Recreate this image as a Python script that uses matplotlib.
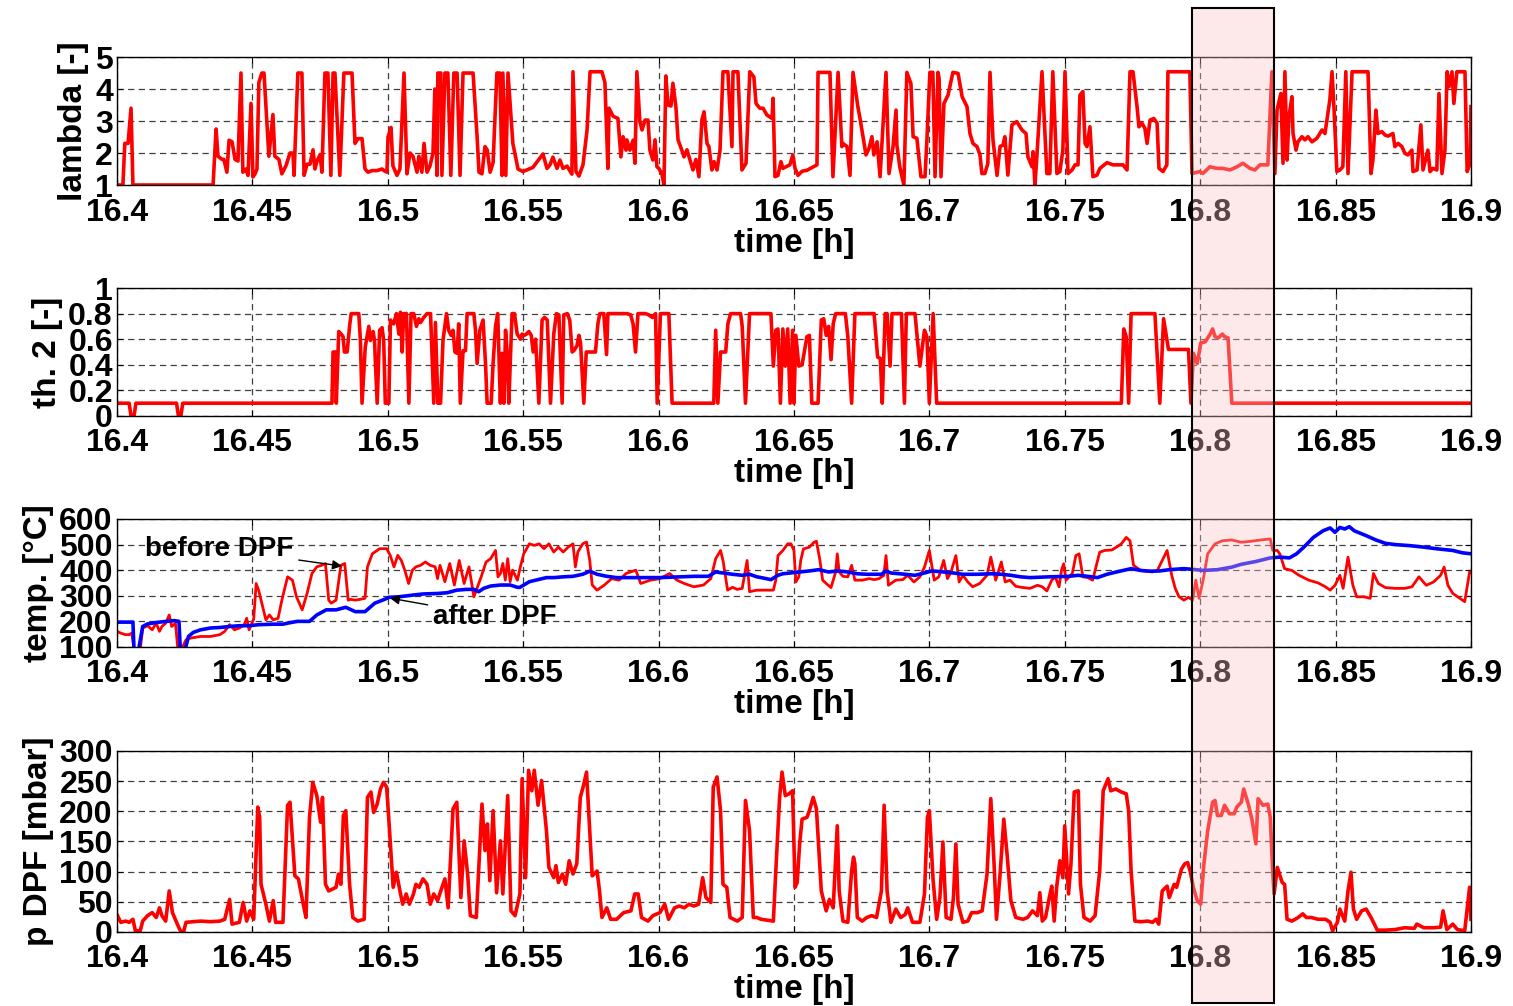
import matplotlib
matplotlib.use("Agg")
import matplotlib.pyplot as plt
from matplotlib.patches import Rectangle
from matplotlib.transforms import blended_transform_factory

plt.rcParams['font.family'] = ['Liberation Sans', 'DejaVu Sans']
plt.rcParams['font.weight'] = 'bold'

# ---------------- data ----------------
xticks = [16.4, 16.45, 16.5, 16.55, 16.6, 16.65, 16.7, 16.75, 16.8, 16.85, 16.9]
xticklabels = ['16.4', '16.45', '16.5', '16.55', '16.6', '16.65', '16.7', '16.75', '16.8', '16.85', '16.9']

lam_t = [16.4000,16.4022,16.4029,16.4041,16.4052,16.4059,16.4355,16.4366,16.4373,16.4388,16.4395,16.4406,16.4414,16.4425,16.4436,16.4447,16.4458,16.4465,16.4476,16.4484,16.4495,16.4502,16.4510,16.4517,16.4524,16.4535,16.4543,16.4554,16.4561,16.4576,16.4583,16.4598,16.4609,16.4624,16.4639,16.4650,16.4654,16.4668,16.4683,16.4691,16.4702,16.4713,16.4724,16.4731,16.4739,16.4750,16.4757,16.4768,16.4779,16.4790,16.4798,16.4805,16.4823,16.4838,16.4868,16.4879,16.4890,16.4905,16.4916,16.4927,16.4942,16.4960,16.4979,16.4986,16.4997,16.5001,16.5012,16.5019,16.5034,16.5045,16.5060,16.5071,16.5082,16.5093,16.5108,16.5115,16.5126,16.5134,16.5145,16.5156,16.5167,16.5174,16.5182,16.5185,16.5196,16.5200,16.5211,16.5222,16.5233,16.5244,16.5256,16.5267,16.5278,16.5315,16.5330,16.5337,16.5348,16.5359,16.5367,16.5378,16.5389,16.5403,16.5414,16.5422,16.5425,16.5436,16.5444,16.5462,16.5481,
16.5499,16.5536,16.5573,16.5588,16.5599,16.5610,16.5625,16.5636,16.5647,16.5662,16.5680,16.5684,16.5695,16.5706,16.5721,16.5736,16.5747,16.5791,16.5802,16.5813,16.5817,16.5832,16.5850,16.5861,16.5869,16.5880,16.5883,16.5894,16.5906,16.5913,16.5920,16.5931,16.5939,16.5950,16.5961,16.5968,16.5979,16.5987,16.5994,16.6001,16.6012,16.6020,16.6027,16.6035,16.6046,16.6053,16.6064,16.6072,16.6086,16.6094,16.6105,16.6116,16.6127,16.6138,16.6149,16.6160,16.6168,16.6179,16.6186,16.6197,16.6205,16.6216,16.6227,16.6238,16.6256,16.6271,16.6275,16.6293,16.6308,16.6323,16.6337,16.6352,16.6360,16.6374,
16.6386,16.6400,16.6419,16.6423,16.6430,16.6441,16.6452,16.6459,16.6485,16.6496,16.6504,16.6515,16.6530,16.6548,16.6570,16.6585,16.6589,16.6633,16.6644,16.6663,16.6677,16.6681,16.6696,16.6707,16.6718,16.6736,16.6744,16.6755,16.6766,16.6777,16.6788,16.6795,16.6807,16.6818,16.6840,16.6851,16.6866,16.6877,16.6880,16.6891,16.6906,16.6917,16.6932,16.6940,16.6954,16.6969,16.6984,16.6991,16.7002,16.7013,16.7021,16.7032,16.7036,16.7043,16.7054,16.7069,16.7087,16.7106,16.7121,16.7139,16.7150,16.7161,16.7176,16.7187,16.7194,16.7205,16.7216,16.7224,16.7235,16.7250,16.7261,
16.7272,16.7279,16.7290,16.7305,16.7323,16.7342,16.7357,16.7364,16.7379,16.7383,16.7390,16.7397,16.7416,16.7434,16.7445,16.7456,16.7471,16.7482,16.7493,16.7501,16.7512,16.7527,16.7538,16.7549,16.7556,16.7567,16.7575,16.7582,16.7593,16.7604,16.7619,16.7630,16.7656,16.7678,16.7715,16.7730,16.7741,16.7752,16.7767,16.7774,16.7785,16.7796,16.7804,16.7815,16.7829,16.7841,16.7848,16.7863,16.7877,16.7881,16.7962,16.7970,16.7999,16.8010,16.8036,16.8062,16.8084,16.8110,16.8136,16.8158,16.8184,16.8202,16.8221,16.8250,16.8265,16.8276,16.8284,16.8298,16.8306,16.8313,16.8321,16.8328,16.8339,16.8343,16.8354,16.8361,16.8376,16.8387,16.8398,16.8413,16.8431,16.8442,16.8450,16.8461,16.8479,16.8487,16.8494,16.8505,16.8516,16.8527,16.8538,16.8546,16.8561,16.8620,16.8631,16.8638,16.8649,16.8657,16.8671,16.8683,16.8694,16.8712,16.8719,16.8731,16.8745,16.8756,16.8767,16.8782,16.8786,16.8801,16.8815,16.8823,16.8841,16.8849,16.8860,16.8874,16.8882,16.8893,16.8904,16.8912,16.8919,16.8930,16.8937,16.8948,16.8978,16.8986,16.8997,16.9000]
lam_v = [1.0,1.0,2.3,2.3,3.4,1.0,1.0,2.75,1.9,1.8,1.8,1.4,2.4,2.35,1.8,1.75,4.5,1.4,1.5,1.3,3.55,1.25,1.35,1.5,4.2,4.5,4.5,2.9,1.9,3.2,1.9,1.8,1.35,1.6,2.0,2.0,1.3,4.5,4.5,1.3,1.65,1.65,2.1,1.5,1.75,1.95,1.4,4.5,4.5,1.3,4.5,4.5,1.3,4.5,4.5,2.3,2.45,2.45,1.5,1.4,1.45,1.45,1.5,1.45,1.4,2.5,2.8,1.6,1.3,1.5,4.5,1.35,2.0,1.9,1.4,1.9,1.4,2.3,1.4,1.6,2.0,4.0,1.3,4.5,4.5,1.3,4.5,4.5,1.3,4.5,4.5,1.3,4.5,4.5,2.5,1.4,1.35,2.2,2.1,1.4,1.7,4.5,4.5,1.3,4.5,1.3,4.5,2.3,1.5,
1.42,1.55,1.97,1.52,1.63,1.87,1.52,1.78,1.52,1.59,1.34,4.54,1.42,1.28,1.63,2.72,4.54,4.54,4.2,1.52,3.4,3.15,3.08,1.88,2.51,2.09,2.41,2.09,2.4,1.68,4.54,2.98,2.72,3.03,3.03,2.09,1.78,2.41,1.57,1.52,1.36,1.0,4.41,3.5,3.47,4.18,3.45,2.41,2.09,1.88,2.1,1.78,1.47,1.8,1.26,3.03,3.29,2.3,2.2,1.47,1.73,1.47,2.09,4.54,4.54,2.2,4.54,4.54,1.47,1.68,4.54,4.38,3.55,3.4,
3.4,3.19,3.08,3.71,1.26,1.3,1.73,1.52,1.63,1.94,1.52,1.3,1.43,1.46,1.56,1.63,4.52,4.52,1.26,4.52,2.2,2.3,2.2,1.3,4.52,3.45,3.08,2.51,1.94,2.14,2.51,1.94,2.35,1.26,4.52,1.36,2.2,3.34,2.25,1.56,1.0,4.52,4.17,2.51,2.46,1.26,1.26,2.41,4.52,4.52,1.26,4.52,4.33,1.26,3.55,3.81,4.52,4.49,3.76,3.45,2.61,2.3,2.2,1.94,1.36,1.36,1.67,4.52,2.41,1.3,2.2,
2.25,2.51,1.31,2.88,2.98,2.72,2.61,1.88,1.57,2.04,1.0,1.88,4.54,1.36,1.36,4.54,1.36,1.42,2.09,4.54,1.36,1.47,1.63,1.63,3.81,3.92,2.3,2.2,2.82,1.26,1.31,1.52,1.7,1.63,1.63,1.47,4.54,4.54,3.45,2.82,2.93,2.77,2.3,3.03,3.08,2.93,1.52,1.42,1.63,4.54,4.54,1.36,1.42,1.36,1.57,1.52,1.52,1.47,1.57,1.68,1.52,1.47,1.63,1.63,4.54,1.36,3.34,3.86,1.68,4.54,1.78,3.14,3.76,2.61,2.09,2.35,2.51,2.41,2.51,2.35,2.46,2.61,2.72,2.61,3.66,4.54,3.45,1.42,1.47,1.57,4.54,1.36,4.54,4.54,1.36,1.78,3.34,2.61,2.67,2.56,2.53,2.61,2.2,2.3,2.2,1.99,1.94,2.09,1.42,1.47,2.88,1.47,2.09,1.42,1.52,1.47,3.86,1.36,2.09,4.54,4.07,4.54,3.55,4.54,4.54,1.42,1.68,3.45]

th_t = [16.4000,16.4045,16.4052,16.4063,16.4070,16.4220,16.4227,16.4236,16.4243,16.4794,16.4798,16.4807,16.4810,16.4819,16.4828,16.4835,16.4840,16.4850,16.4860,16.4865,16.4893,16.4899,16.4905,16.4917,16.4930,16.4936,16.4946,16.4951,16.4961,16.4970,16.4979,16.4985,16.4991,16.5004,16.5010,16.5022,16.5032,16.5041,16.5047,16.5053,16.5059,16.5069,16.5078,16.5086,16.5096,16.5106,16.5115,16.5121,16.5133,16.5145,16.5158,16.5170,16.5176,16.5185,16.5195,16.5204,16.5217,16.5225,16.5234,16.5241,16.5248,16.5256,16.5262,16.5268,16.5278,16.5287,16.5293,16.5318,16.5324,16.5330,16.5340,16.5352,16.5361,16.5367,16.5382,16.5389,16.5398,16.5406,16.5416,16.5422,16.5429,16.5435,16.5441,16.5447,16.5459,16.5468,16.5478,16.5490,16.5496,16.5505,16.5512,16.5521,16.5530,16.5537,16.5546,16.5558,16.5570,16.5579,16.5589,16.5601,16.5613,16.5623,16.5632,16.5644,16.5650,16.5663,16.5672,16.5681,16.5687,16.5699,16.5706,16.5712,16.5724,16.5733,16.5749,16.5767,16.5776,16.5783,16.5798,16.5808,16.5813,16.5884,16.5897,16.5906,16.5915,16.5924,16.5952,16.5964,16.5977,16.5989,16.5995,16.6007,16.6038,16.6050,16.6204,16.6211,16.6219,16.6229,16.6248,16.6256,16.6266,16.6303,
16.6309,16.6321,16.6336,16.6415,16.6424,16.6433,16.6441,16.6450,16.6459,16.6468,16.6477,16.6486,16.6495,16.6500,16.6507,16.6518,16.6530,16.6548,16.6557,16.6566,16.6589,16.6601,16.6610,16.6619,16.6628,16.6637,16.6645,16.6654,16.6690,16.6699,16.6713,16.6725,16.6796,16.6809,16.6819,16.6826,16.6837,16.6844,16.6855,16.6862,16.6897,16.6908,16.6915,16.6947,16.6965,16.6982,16.6991,16.7000,16.7014,16.7027,16.7709,16.7718,16.7727,16.7736,16.7745,16.7833,16.7851,16.7865,16.7883,16.7957,16.7966,16.7975,16.7989,16.7996,16.8002,16.8019,16.8037,16.8046,16.8055,16.8067,16.8082,16.8090,16.8103,16.8117,16.9000]
th_v = [0.1,0.1,0.0,0.0,0.1,0.1,0.0,0.0,0.1,0.1,0.5,0.5,0.1,0.66,0.64,0.62,0.5,0.5,0.72,0.8,0.8,0.59,0.1,0.54,0.7,0.59,0.66,0.59,0.1,0.67,0.69,0.59,0.1,0.1,0.75,0.72,0.8,0.64,0.81,0.5,0.8,0.8,0.1,0.8,0.8,0.7,0.76,0.73,0.77,0.8,0.8,0.1,0.73,0.1,0.1,0.59,0.8,0.67,0.63,0.67,0.5,0.49,0.72,0.1,0.51,0.51,0.8,0.8,0.67,0.41,0.67,0.75,0.41,0.1,0.1,0.41,0.7,0.8,0.1,0.49,0.1,0.67,0.49,0.1,0.8,0.8,0.64,0.6,0.64,0.63,0.64,0.66,0.63,0.5,0.6,0.1,0.75,0.77,0.75,0.1,0.64,0.8,0.79,0.1,0.79,0.8,0.75,0.5,0.51,0.55,0.63,0.57,0.1,0.5,0.5,0.5,0.72,0.8,0.8,0.48,0.8,0.8,0.79,0.72,0.5,0.8,0.8,0.79,0.77,0.8,0.1,0.8,0.8,0.1,0.1,0.67,0.1,0.5,0.5,0.72,0.8,0.8,
0.7,0.1,0.8,0.8,0.39,0.67,0.68,0.1,0.68,0.39,0.68,0.1,0.67,0.1,0.63,0.39,0.4,0.62,0.63,0.1,0.1,0.75,0.76,0.63,0.7,0.44,0.72,0.8,0.8,0.62,0.1,0.8,0.8,0.46,0.45,0.1,0.8,0.8,0.39,0.8,0.8,0.1,0.8,0.8,0.39,0.67,0.62,0.1,0.8,0.1,0.1,0.68,0.62,0.1,0.8,0.8,0.1,0.76,0.52,0.52,0.1,0.49,0.41,0.49,0.57,0.58,0.64,0.68,0.62,0.61,0.64,0.62,0.61,0.1,0.1]

tb_t = [16.4000,16.4014,16.4032,16.4045,16.4055,16.4063,16.4086,16.4095,16.4113,16.4130,16.4145,16.4157,16.4166,16.4180,16.4193,16.4202,16.4216,16.4225,16.4238,16.4255,16.4273,16.4309,16.4345,16.4380,16.4398,16.4416,16.4434,16.4452,16.4470,16.4479,16.4488,16.4496,16.4505,16.4514,16.4523,16.4532,16.4550,16.4563,16.4577,16.4595,16.4609,16.4630,16.4648,16.4663,16.4684,16.4702,16.4720,16.4738,16.4755,16.4770,16.4782,16.4791,16.4809,16.4827,16.4841,16.4854,16.4863,16.4880,16.4898,16.4916,16.4925,16.4943,16.4970,16.4996,16.5009,16.5023,16.5037,16.5050,16.5063,16.5077,16.5091,16.5104,16.5121,16.5139,16.5157,16.5175,16.5184,16.5193,16.5211,16.5229,16.5246,16.5264,16.5282,16.5300,16.5318,16.5336,16.5345,16.5363,16.5380,16.5398,16.5407,16.5416,16.5425,16.5434,16.5443,16.5452,16.5461,16.5479,16.5488,16.5502,16.5523,16.5541,16.5559,16.5577,16.5595,16.5613,16.5630,16.5648,16.5666,16.5684,16.5693,16.5702,16.5720,16.5734,16.5746,16.5755,16.5773,16.5800,16.5827,16.5854,16.5880,16.5916,16.5934,16.5970,16.6005,16.6041,16.6068,16.6095,16.6130,16.6166,16.6193,16.6211,16.6229,16.6238,16.6255,16.6273,16.6291,16.6309,16.6327,16.6336,16.6363,
16.6379,16.6424,16.6433,16.6441,16.6459,16.6477,16.6489,16.6500,16.6507,16.6518,16.6525,16.6535,16.6557,16.6574,16.6583,16.6596,16.6606,16.6619,16.6637,16.6654,16.6660,16.6667,16.6681,16.6699,16.6713,16.6725,16.6752,16.6778,16.6796,16.6814,16.6832,16.6840,16.6849,16.6876,16.6902,16.6920,16.6943,16.6965,16.6982,16.7000,16.7018,16.7035,16.7053,16.7067,16.7080,16.7098,16.7110,16.7124,16.7142,16.7160,16.7186,16.7213,16.7227,16.7245,16.7266,16.7280,16.7298,16.7319,16.7346,16.7372,16.7399,16.7417,16.7434,16.7452,16.7465,16.7479,16.7488,16.7496,16.7505,16.7528,16.7541,16.7553,16.7567,16.7585,16.7603,16.7629,16.7647,16.7674,16.7691,16.7709,16.7727,16.7741,16.7754,16.7780,16.7798,16.7824,16.7842,16.7860,16.7878,16.7895,16.7908,16.7922,16.7940,16.7957,16.7972,16.7984,16.7996,16.8011,16.8028,16.8055,16.8082,16.8117,16.8152,16.8188,16.8223,16.8259,16.8268,16.8285,16.8294,16.8312,16.8339,16.8365,16.8401,16.8436,16.8463,16.8480,16.8498,16.8516,16.8528,16.8546,16.8564,16.8578,16.8605,16.8628,16.8640,16.8658,16.8684,16.8720,16.8755,16.8782,16.8808,16.8835,16.8862,16.8888,16.8901,16.8915,16.8933,16.8959,16.8977,16.8995,16.9000]
tb_v = [161,154,148,148,154,90,90,174,183,167,193,161,180,193,225,180,193,90,90,128,135,141,141,148,161,187,167,174,187,212,167,187,209,348,322,283,206,225,206,212,283,374,361,296,245,309,387,413,419,426,283,271,283,419,426,283,286,283,286,290,413,464,484,484,458,413,458,438,400,348,400,413,419,432,419,413,367,419,355,426,342,438,348,413,296,348,374,432,445,477,374,387,426,361,445,355,400,361,406,464,503,497,503,484,503,471,490,471,490,503,413,471,503,510,438,342,322,342,367,361,387,400,348,361,367,387,361,348,335,342,367,445,477,438,322,333,325,329,438,316,322,
322,322,361,457,477,503,503,477,354,374,438,483,490,509,513,438,361,348,332,393,464,393,376,374,419,361,361,367,363,367,380,457,341,361,363,380,354,374,412,477,361,374,438,367,393,457,354,380,354,335,348,380,451,361,432,354,361,337,332,329,341,335,319,361,374,335,400,425,361,387,457,464,374,371,361,470,477,479,490,503,528,515,419,399,396,393,399,438,477,380,329,296,283,294,283,361,290,361,464,503,515,518,509,513,518,522,477,477,464,406,399,380,361,350,335,322,341,380,329,451,341,296,296,290,387,348,332,329,329,335,374,341,354,380,412,341,309,290,277,393,393]

ta_t = [16.4000,16.4059,16.4063,16.4080,16.4095,16.4113,16.4148,16.4184,16.4211,16.4229,16.4234,16.4252,16.4264,16.4282,16.4309,16.4345,16.4380,16.4416,16.4452,16.4488,16.4523,16.4577,16.4613,16.4630,16.4666,16.4711,16.4738,16.4773,16.4809,16.4845,16.4880,16.4916,16.4952,16.4988,16.5005,16.5041,16.5095,16.5130,16.5184,16.5220,16.5255,16.5291,16.5318,16.5336,16.5354,16.5380,16.5416,16.5452,16.5479,16.5488,16.5523,16.5559,16.5586,16.5613,16.5648,16.5684,16.5720,16.5746,16.5773,16.5809,16.5845,16.5898,16.5952,16.6005,16.6077,16.6130,16.6184,16.6211,16.6238,16.6273,16.6309,16.6336,16.6363,
16.6379,16.6415,16.6441,16.6459,16.6486,16.6521,16.6557,16.6592,16.6628,16.6663,16.6699,16.6734,16.6769,16.6823,16.6840,16.6858,16.6911,16.6947,16.6982,16.7009,16.7053,16.7089,16.7124,16.7177,16.7230,16.7266,16.7301,16.7337,16.7372,16.7443,16.7514,16.7550,16.7585,16.7621,16.7656,16.7691,16.7745,16.7780,16.7816,16.7851,16.7886,16.7940,16.7975,16.8011,16.8064,16.8117,16.8152,16.8206,16.8259,16.8294,16.8330,16.8356,16.8383,16.8418,16.8454,16.8480,16.8498,16.8516,16.8534,16.8551,16.8569,16.8613,16.8649,16.8684,16.8720,16.8773,16.8826,16.8879,16.8933,16.8968,16.9000]
ta_v = [197,197,90,90,180,190,196,200,203,200,90,90,141,157,167,174,176,180,183,183,187,189,189,193,200,200,225,245,245,255,238,238,271,286,294,296,303,307,309,312,322,325,325,316,329,338,342,342,333,333,355,364,371,371,374,376,384,396,384,376,371,371,371,371,374,376,376,393,389,384,380,384,374,
371,363,380,386,389,393,397,402,393,397,393,386,384,384,397,389,384,380,389,397,393,389,384,384,386,384,380,374,371,374,376,380,376,371,384,393,406,399,396,397,402,406,403,399,402,412,423,434,448,451,448,464,490,528,554,565,548,567,561,570,554,535,518,505,500,496,490,483,477,468,464]

p_t = [16.4000,16.4014,16.4032,16.4045,16.4059,16.4068,16.4086,16.4095,16.4113,16.4130,16.4145,16.4157,16.4166,16.4180,16.4193,16.4205,16.4220,16.4234,16.4246,16.4255,16.4282,16.4309,16.4345,16.4380,16.4398,16.4416,16.4425,16.4452,16.4466,16.4479,16.4491,16.4505,16.4520,16.4527,16.4532,16.4550,16.4563,16.4577,16.4586,16.4613,16.4630,16.4639,16.4657,16.4670,16.4688,16.4698,16.4711,16.4723,16.4738,16.4752,16.4759,16.4770,16.4782,16.4809,16.4818,16.4827,16.4836,16.4845,16.4859,16.4871,16.4889,16.4913,16.4925,16.4938,16.4948,16.4961,16.4973,16.4984,16.4996,16.5005,16.5020,16.5032,16.5045,16.5055,16.5068,16.5080,16.5095,16.5104,16.5116,16.5130,16.5145,16.5157,16.5170,16.5184,16.5198,16.5211,16.5223,16.5241,16.5255,16.5270,16.5282,16.5295,16.5305,16.5327,16.5348,16.5359,16.5368,16.5377,16.5389,16.5402,16.5416,16.5425,16.5443,16.5455,16.5470,16.5488,16.5496,16.5509,16.5520,16.5532,16.5541,16.5555,16.5568,16.5586,16.5595,16.5613,16.5621,16.5630,16.5645,16.5657,16.5670,16.5684,16.5698,16.5711,16.5723,16.5734,16.5746,16.5755,16.5773,16.5782,16.5791,16.5809,16.5823,16.5845,16.5871,16.5898,16.5912,16.5925,16.5937,16.5961,16.5979,16.6005,16.6023,16.6037,16.6059,16.6077,16.6095,16.6112,16.6130,16.6148,16.6163,16.6175,16.6193,16.6202,16.6216,16.6229,16.6238,16.6252,16.6264,16.6291,16.6309,16.6321,16.6336,16.6350,16.6363,
16.6379,16.6424,16.6433,16.6447,16.6456,16.6468,16.6482,16.6495,16.6504,16.6512,16.6521,16.6530,16.6548,16.6557,16.6571,16.6583,16.6592,16.6601,16.6619,16.6631,16.6645,16.6660,16.6667,16.6681,16.6699,16.6713,16.6720,16.6725,16.6734,16.6752,16.6769,16.6787,16.6805,16.6823,16.6833,16.6844,16.6858,16.6876,16.6894,16.6911,16.6920,16.6938,16.6965,16.6982,16.6993,16.7000,16.7014,16.7027,16.7039,16.7050,16.7062,16.7080,16.7089,16.7098,16.7106,16.7124,16.7142,16.7156,16.7177,16.7195,16.7213,16.7227,16.7239,16.7248,16.7262,16.7275,16.7287,16.7301,16.7319,16.7346,16.7363,16.7381,16.7399,16.7408,16.7417,16.7429,16.7443,16.7452,16.7461,16.7470,16.7482,16.7493,16.7500,16.7514,16.7523,16.7535,16.7550,16.7558,16.7571,16.7594,16.7612,16.7629,16.7642,16.7660,16.7670,16.7688,16.7709,16.7727,16.7736,16.7745,16.7759,16.7780,16.7807,16.7824,16.7837,16.7847,16.7860,16.7878,16.7886,16.7904,16.7913,16.7931,16.7943,16.7954,16.7963,16.7975,16.7989,16.8002,16.8014,16.8028,16.8046,16.8055,16.8064,16.8078,16.8090,16.8108,16.8126,16.8135,16.8152,16.8161,16.8179,16.8191,16.8206,16.8214,16.8232,16.8250,16.8259,16.8268,16.8273,16.8285,16.8303,16.8312,16.8321,16.8339,16.8362,16.8379,16.8392,16.8410,16.8436,16.8463,16.8480,16.8489,16.8507,16.8516,16.8534,16.8546,16.8557,16.8566,16.8578,16.8596,16.8613,16.8631,16.8640,16.8654,16.8684,16.8720,16.8755,16.8791,16.8800,16.8826,16.8862,16.8888,16.8897,16.8911,16.8933,16.8950,16.8977,16.8995,16.9000]
p_v = [29,16,18,16,21,2,2,18,27,32,24,40,27,18,68,32,16,2,0,16,17,18,17,18,21,54,13,16,49,18,35,21,207,190,79,46,18,52,16,16,210,215,93,88,46,24,190,248,226,182,223,79,68,74,96,79,193,201,79,24,18,21,223,232,198,212,237,248,240,179,74,99,68,46,63,46,63,79,74,88,79,46,63,52,71,88,40,204,215,57,151,96,27,24,212,135,179,85,201,65,151,63,226,35,27,63,254,90,268,234,268,210,251,168,107,90,110,82,96,79,118,96,113,223,243,265,168,93,101,68,24,40,21,21,32,35,63,63,24,18,27,32,46,21,40,43,40,46,43,46,90,57,49,240,257,201,79,74,24,18,24,218,168,24,24,
21,18,101,223,265,226,229,234,74,82,146,187,190,201,223,204,135,68,35,54,40,176,68,18,16,101,124,113,24,18,24,27,24,68,210,68,16,38,24,29,40,16,16,63,190,201,85,21,57,149,24,21,57,146,46,16,18,32,32,35,96,221,113,21,101,187,129,52,24,21,24,35,27,65,18,24,57,76,18,74,118,90,176,63,113,232,234,79,24,18,27,101,234,254,234,237,232,229,201,101,18,17,18,16,21,13,68,76,57,79,74,104,113,115,101,74,52,46,113,168,215,218,193,193,210,196,196,207,215,237,210,187,146,221,210,212,190,101,63,107,82,79,21,18,24,30,24,24,21,21,16,2,16,38,18,68,99,38,21,35,38,24,16,3,3,4,7,6,13,7,7,8,35,4,13,4,2,74,21]

highlight = (16.797, 16.8273)

# ---------------- figure ----------------
fig = plt.figure(figsize=(15.13, 10.06), dpi=100)
L, W = 0.0773, 0.8949
pos = [(0.8161, 0.1272), (0.5865, 0.1272), (0.3569, 0.1272), (0.0736, 0.1799)]
axes = [fig.add_axes([L, b, W, h]) for b, h in pos]

TICK_FS = 23
LAB_FS = 24

def style(ax, ylim, yticks, yticklabels, ylabel):
    ax.set_xlim(16.4, 16.9)
    ax.set_ylim(*ylim)
    ax.set_xticks(xticks)
    ax.set_xticklabels(xticklabels, fontsize=TICK_FS, fontweight='bold')
    ax.set_yticks(yticks)
    ax.set_yticklabels(yticklabels, fontsize=TICK_FS, fontweight='bold')
    ax.tick_params(direction='in', length=4, width=0.8, top=True, right=True, pad=3)
    ax.tick_params(axis='x', pad=9)
    ax.grid(True, color='0.25', linestyle=(0, (5, 3.5)), linewidth=0.9)
    for s in ax.spines.values():
        s.set_linewidth(1.0)
    ax.set_xlabel('time [h]', fontsize=LAB_FS, fontweight='bold', labelpad=0)
    ax.set_ylabel(ylabel, fontsize=LAB_FS, fontweight='bold', labelpad=4)

ax1, ax2, ax3, ax4 = axes
ax1.plot(lam_t, lam_v, color='#ff0000', lw=2.6)
style(ax1, (1, 5), [1, 2, 3, 4, 5], ['1', '2', '3', '4', '5'], 'lambda [-]')

ax2.plot(th_t, th_v, color='#ff0000', lw=2.6)
style(ax2, (0, 1), [0, 0.2, 0.4, 0.6, 0.8, 1], ['0', '0.2', '0.4', '0.6', '0.8', '1'], 'th. 2 [-]')

ax3.plot(tb_t, tb_v, color='#ff0000', lw=2.0)
ax3.plot(ta_t, ta_v, color='#0000ff', lw=2.6)
style(ax3, (100, 600), [100, 200, 300, 400, 500, 600],
      ['100', '200', '300', '400', '500', '600'], 'temp. [°C]')
ax3.annotate('before DPF', xy=(16.4831, 416), xytext=(16.4377, 483),
             fontsize=20, fontweight='bold', ha='center', va='center',
             arrowprops=dict(arrowstyle='-|>', color='k', lw=1.0, mutation_scale=14,
                             shrinkA=2, shrinkB=0))
ax3.annotate('after DPF', xy=(16.5008, 291), xytext=(16.5396, 217),
             fontsize=20, fontweight='bold', ha='center', va='center',
             arrowprops=dict(arrowstyle='-|>', color='k', lw=1.0, mutation_scale=14,
                             shrinkA=2, shrinkB=0))

ax4.plot(p_t, p_v, color='#ff0000', lw=2.6)
style(ax4, (0, 300), [0, 50, 100, 150, 200, 250, 300],
      ['0', '50', '100', '150', '200', '250', '300'], 'p DPF [mbar]')

trans = blended_transform_factory(ax4.transData, fig.transFigure)
rect = Rectangle((highlight[0], 0.003), highlight[1] - highlight[0], 0.989,
                 transform=trans, facecolor=(0.98, 0.77, 0.77, 0.36),
                 edgecolor='black', linewidth=1.5, zorder=10)
fig.add_artist(rect)

fig.savefig('out.png', dpi=100)
